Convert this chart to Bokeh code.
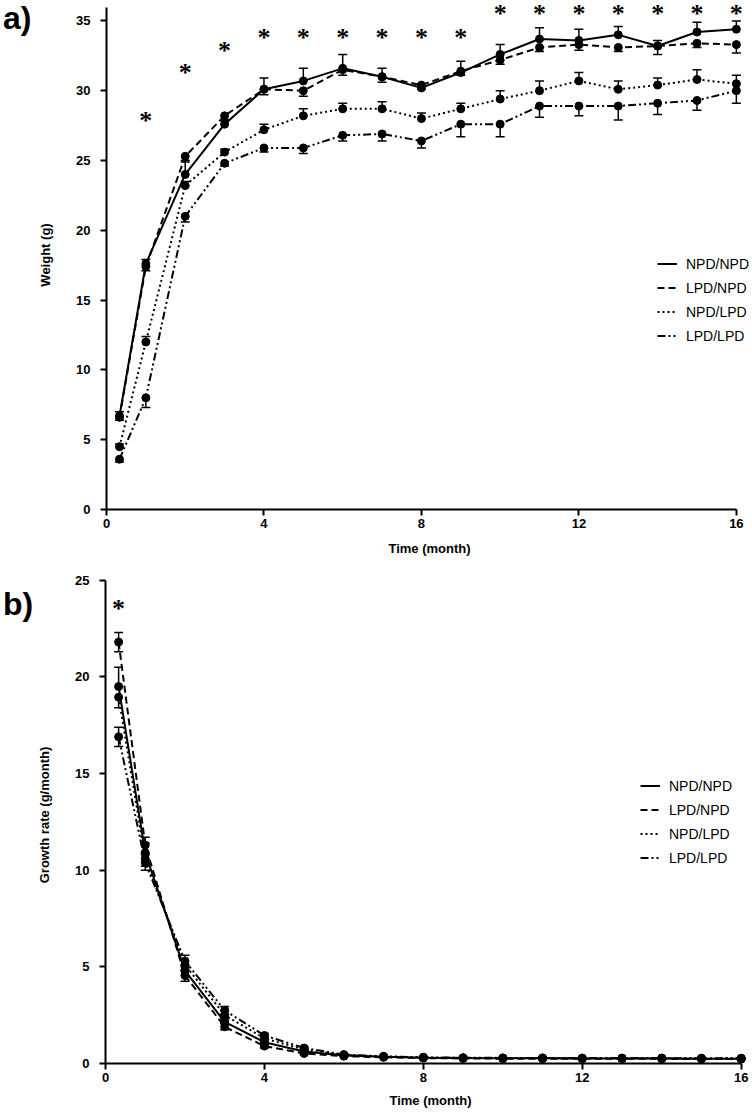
from bokeh.plotting import figure
from bokeh.models import (ColumnDataSource, Whisker, TeeHead, Legend, LegendItem,
                          LabelSet, FixedTicker, Range1d, Div)
from bokeh.layouts import column, row
from bokeh.embed import file_html
from bokeh.resources import INLINE

# ---------------- data ----------------
months = [0.33, 1, 2, 3, 4, 5, 6, 7, 8, 9, 10, 11, 12, 13, 14, 15, 16]
groups = ["NPD/NPD", "LPD/NPD", "NPD/LPD", "LPD/LPD"]

# Panel a: body weight (g)
w_npd_npd = [6.7, 17.6, 24.0, 27.6, 30.1, 30.7, 31.6, 31.0, 30.2, 31.3, 32.6, 33.7, 33.6, 34.0, 33.2, 34.2, 34.4]
w_lpd_npd = [6.6, 17.4, 25.3, 28.2, 30.1, 30.0, 31.5, 31.0, 30.4, 31.4, 32.2, 33.1, 33.3, 33.1, 33.2, 33.4, 33.3]
w_npd_lpd = [4.5, 12.0, 23.2, 25.6, 27.2, 28.2, 28.7, 28.7, 28.0, 28.7, 29.4, 30.0, 30.7, 30.1, 30.4, 30.8, 30.5]
w_lpd_lpd = [3.6, 8.0, 21.0, 24.8, 25.9, 25.9, 26.8, 26.9, 26.4, 27.6, 27.6, 28.9, 28.9, 28.9, 29.1, 29.3, 30.0]
we_npd_npd = [0.3, 0.3, 1.0, 0.3, 0.8, 0.9, 1.0, 0.6, 0.3, 0.8, 0.7, 0.8, 0.8, 0.6, 0.4, 0.7, 0.6]
we_lpd_npd = [0.2, 0.3, 0.4, 0.3, 0.4, 0.4, 0.4, 0.4, 0.3, 0.3, 0.3, 0.3, 0.4, 0.3, 0.6, 0.3, 0.6]
we_npd_lpd = [0.2, 0.4, 0.3, 0.2, 0.4, 0.5, 0.4, 0.5, 0.4, 0.4, 0.6, 0.7, 0.6, 0.6, 0.5, 0.7, 0.6]
we_lpd_lpd = [0.2, 0.7, 0.4, 0.2, 0.3, 0.4, 0.4, 0.5, 0.5, 0.9, 0.9, 0.8, 0.7, 1.0, 0.8, 0.7, 0.9]
sig_a_x = [1, 2, 3, 4, 5, 6, 7, 8, 9, 10, 11, 12, 13, 14, 15, 16]
sig_a_y = [28.4, 31.8, 33.4, 34.3, 34.3, 34.3, 34.3, 34.3, 34.3, 36.0, 36.0, 36.0, 36.0, 36.0, 36.0, 36.0]

# Panel b: growth rate (g/month)
g_npd_npd = [19.5, 10.9, 4.8, 2.15, 1.1, 0.62, 0.42, 0.35, 0.30, 0.28, 0.27, 0.27, 0.26, 0.26, 0.26, 0.25, 0.25]
g_lpd_npd = [21.8, 11.3, 4.55, 1.9, 0.9, 0.52, 0.38, 0.32, 0.28, 0.26, 0.25, 0.25, 0.24, 0.24, 0.24, 0.23, 0.23]
g_npd_lpd = [18.95, 10.6, 5.1, 2.5, 1.3, 0.72, 0.44, 0.36, 0.31, 0.29, 0.28, 0.28, 0.27, 0.27, 0.27, 0.26, 0.26]
g_lpd_lpd = [16.9, 10.4, 5.3, 2.75, 1.45, 0.80, 0.46, 0.37, 0.32, 0.30, 0.29, 0.29, 0.28, 0.28, 0.28, 0.27, 0.27]
ge_npd_npd = [1.0, 0.5, 0.3, 0.2, 0.1, 0.05, 0.03, 0.02, 0.02, 0.02, 0.02, 0.02, 0.02, 0.02, 0.02, 0.02, 0.02]
ge_lpd_npd = [0.5, 0.4, 0.3, 0.15, 0.1, 0.05, 0.03, 0.02, 0.02, 0.02, 0.02, 0.02, 0.02, 0.02, 0.02, 0.02, 0.02]
ge_npd_lpd = [0.55, 0.4, 0.3, 0.2, 0.1, 0.05, 0.03, 0.02, 0.02, 0.02, 0.02, 0.02, 0.02, 0.02, 0.02, 0.02, 0.02]
ge_lpd_lpd = [0.5, 0.4, 0.3, 0.2, 0.1, 0.05, 0.03, 0.02, 0.02, 0.02, 0.02, 0.02, 0.02, 0.02, 0.02, 0.02, 0.02]
sig_b_x = [0.33]
sig_b_y = [23.9]

x_ticks = [0, 4, 8, 12, 16]
ya_ticks = [0, 5, 10, 15, 20, 25, 30, 35]
yb_ticks = [0, 5, 10, 15, 20, 25]

FONT = "Liberation Sans"
DASHES = ["solid", "7 4", "2 3", "8 3 2 3 2 3"]
DIV_W = 34


def make_panel(ys, errs, err_dirs, sig_x, sig_y, ylabel, x_end, y_end, y_bound, yticks,
               frame_w, frame_h, left, top, bottom, leg_loc, xlab_standoff):
    p = figure(frame_width=frame_w, frame_height=frame_h,
               x_range=Range1d(0, x_end), y_range=Range1d(0, y_end),
               min_border_left=left, min_border_right=0,
               min_border_top=top, min_border_bottom=bottom,
               output_backend="svg", toolbar_location=None)
    p.outline_line_color = None
    p.xgrid.visible = False
    p.ygrid.visible = False
    p.background_fill_color = "white"
    p.border_fill_color = "white"

    items = []
    for name, y, e, d, dash in zip(groups, ys, errs, err_dirs, DASHES):
        up = [a + b for a, b in zip(y, e)] if d in ("up", "both") else list(y)
        lo = [a - b for a, b in zip(y, e)] if d in ("down", "both") else list(y)
        src = ColumnDataSource(dict(x=months, y=y, upper=up, lower=lo))
        wk = Whisker(source=src, base="x", upper="upper", lower="lower", dimension="height",
                     line_color="black", line_width=1.5,
                     upper_head=TeeHead(size=9, line_width=1.5, line_color="black") if d in ("up", "both") else None,
                     lower_head=TeeHead(size=9, line_width=1.5, line_color="black") if d in ("down", "both") else None)
        p.add_layout(wk)
        r = p.line("x", "y", source=src, line_color="black", line_width=2, line_dash=dash)
        p.scatter("x", "y", source=src, size=8, color="black")
        items.append(LegendItem(label=name, renderers=[r]))

    leg = Legend(items=items, location=leg_loc, orientation="vertical",
                 glyph_width=20, glyph_height=17, label_height=17, label_standoff=9,
                 spacing=7, padding=0, margin=0, border_line_color=None,
                 background_fill_alpha=0, label_text_font=FONT, label_text_font_size="14px",
                 label_text_color="black")
    p.add_layout(leg)

    sig = ColumnDataSource(dict(x=sig_x, y=sig_y, t=["*"] * len(sig_x)))
    p.add_layout(LabelSet(x="x", y="y", text="t", source=sig, text_align="center",
                          text_baseline="middle", y_offset=-7, text_font=FONT,
                          text_font_style="bold", text_font_size="26px", text_color="black"))

    for ax in (p.xaxis[0], p.yaxis[0]):
        ax.axis_line_width = 2
        ax.axis_line_color = "black"
        ax.major_tick_line_width = 2
        ax.major_tick_line_color = "black"
        ax.major_tick_out = 6
        ax.major_tick_in = 0
        ax.minor_tick_line_color = None
        ax.major_label_text_font = FONT
        ax.major_label_text_font_style = "bold"
        ax.major_label_text_font_size = "13px"
        ax.major_label_text_color = "black"
        ax.axis_label_text_font = FONT
        ax.axis_label_text_font_style = "bold"
        ax.axis_label_text_font_size = "13px"
        ax.axis_label_text_color = "black"
    p.xaxis[0].ticker = FixedTicker(ticks=x_ticks)
    p.yaxis[0].ticker = FixedTicker(ticks=yticks)
    p.xaxis[0].bounds = (0, 16)
    p.yaxis[0].bounds = y_bound
    p.xaxis[0].axis_label = "Time (month)"
    p.yaxis[0].axis_label = ylabel
    p.xaxis[0].major_label_standoff = 3
    p.yaxis[0].major_label_standoff = 10
    p.xaxis[0].axis_label_standoff = xlab_standoff
    p.yaxis[0].axis_label_standoff = 20
    return p


def letter_div(txt, pad_top):
    return Div(text=txt, width=DIV_W, height=60, margin=0,
               styles={"font-family": FONT, "font-weight": "bold", "font-size": "32px",
                       "line-height": "32px", "padding-top": f"{pad_top}px",
                       "padding-left": "3px", "color": "black", "white-space": "nowrap"})


# panel a: frame x 106..752 (x 0 at 106, 16 at 736), y 0 at 509, 35 at 20.7
pa = make_panel([w_npd_npd, w_lpd_npd, w_npd_lpd, w_lpd_lpd],
                [we_npd_npd, we_lpd_npd, we_npd_lpd, we_lpd_lpd],
                ["up", "down", "up", "down"], sig_a_x, sig_a_y,
                "Weight (g)", 16.41, 36.46, (0, 35.96), ya_ticks,
                frame_w=646, frame_h=509, left=106 - DIV_W, top=0, bottom=57,
                leg_loc=(551, 165), xlab_standoff=10)

# panel b: frame x 102..752 (x 0 at 102, 16 at 737), y 0 at 1063, 25 at 580
pb = make_panel([g_npd_npd, g_lpd_npd, g_npd_lpd, g_lpd_lpd],
                [ge_npd_npd, ge_lpd_npd, ge_npd_lpd, ge_lpd_lpd],
                ["up", "both", "down", "both"], sig_b_x, sig_b_y,
                "Growth rate (g/month)", 16.36, 25.71, (0, 25), yb_ticks,
                frame_w=650, frame_h=497, left=102 - DIV_W, top=0, bottom=54,
                leg_loc=(535, 197), xlab_standoff=8)

layout = column(row(letter_div("a)", 2), pa, spacing=0),
                row(letter_div("b)", 22), pb, spacing=0), spacing=0)
open("out.html", "w").write(file_html(layout, INLINE))
